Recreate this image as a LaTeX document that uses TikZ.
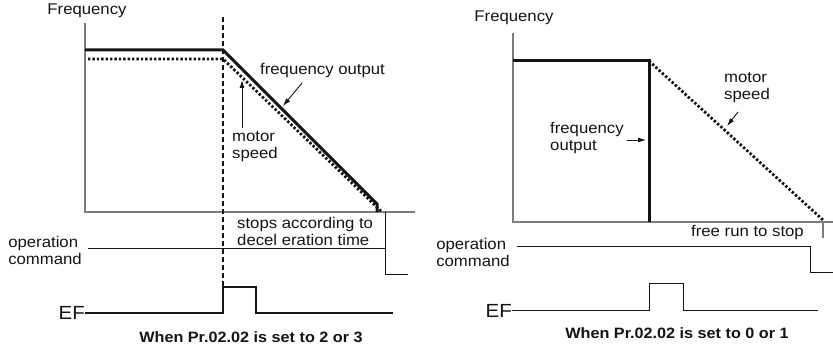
\documentclass[tikz,border=0pt]{standalone}
\usepackage{fontspec}
\setmainfont{Liberation Sans}[FakeStretch=1.08]
\usepackage{tikz}
\usetikzlibrary{arrows.meta,positioning}
\definecolor{axisgray}{RGB}{125,125,125}
\definecolor{inkblack}{RGB}{20,20,20}
\tikzset{
  lbl/.style={font=\fontsize{15.5}{17}\selectfont, inner sep=0pt, align=left, text=inkblack},
  caplbl/.style={font=\fontsize{15}{17}\selectfont\bfseries, inner sep=0pt, text=inkblack},
  eflbl/.style={font=\fontsize{19}{21}\selectfont, inner sep=0pt, text=inkblack},
  axis/.style={draw=axisgray, line width=1.1pt},
  freqout/.style={draw=inkblack, line width=3pt, line join=miter},
  motorspd/.style={draw=inkblack, line width=2.8pt, dash pattern=on 2.4pt off 2pt},
  cmdline/.style={draw=inkblack, line width=1pt},
  efline/.style={draw=inkblack, line width=1.4pt},
  trigger/.style={draw=inkblack, line width=1.5pt, dash pattern=on 5pt off 3pt},
  pointer/.style={-{Latex[length=8pt,width=5pt]}, draw=inkblack, line width=0.9pt}
}

\begin{document}
\begin{tikzpicture}[x=1pt,y=-1pt]
  \useasboundingbox (0,0) rectangle (833,352);

  % left: Pr.02.02 = 2 or 3
  \coordinate (lo) at (85,212);
  \coordinate (ltop) at (85,23);
  \coordinate (lend) at (415,212);
  \draw[axis] (ltop) -- (lo) -- (lend);
  \node[lbl] (lfreq) at (87,11) {Frequency};

  \coordinate (lf0) at (85,50);
  \coordinate (lf1) at (223,50);
  \coordinate (lf2) at (377,204);
  \coordinate (lf3) at (377,212);
  \draw[freqout] (lf0) -- (lf1) -- (lf2) -- (lf3);
  \coordinate (lm0) at (88,59);
  \coordinate (lm1) at (223,59);
  \coordinate (lm2) at (381,211);
  \draw[motorspd] (lm0) -- (lm1) -- (lm2);

  \coordinate (ltrig0) at (223,17);
  \coordinate (ltrig1) at (223,287);
  \draw[trigger] (ltrig0) -- (ltrig1);

  \node[lbl, anchor=west] (lfoutl) at (260,71) {frequency output};
  \coordinate (lfoutp) at (283,106);
  \draw[pointer] (302,83) -- (lfoutp);
  \node[lbl, anchor=west] (lmotl) at (232,147) {motor\\speed};
  \coordinate (lmotp) at (242,80);
  \draw[pointer] (242,128) -- (lmotp);

  \node[lbl, anchor=west] (lstop) at (237,231.5) {stops according to\\decel eration time};

  \node[lbl, anchor=east, align=left] (lcmd) at (82,250) {operation\\command};
  \coordinate (lc0) at (88,249);
  \coordinate (lc1) at (385,249);
  \coordinate (lc2) at (385,275);
  \coordinate (lc3) at (408,275);
  \coordinate (lcax) at (385,212);
  \draw[cmdline] (lc0) -- (lc1) -- (lc2) -- (lc3);
  \draw[cmdline] (lcax) -- (lc1);

  \node[eflbl, anchor=east] (lef) at (85,313) {EF};
  \draw[efline] (lef.east) -- (223,313) -- (223,287) -- (256,287) -- (256,313) -- (393,313);

  \node[caplbl] (lcap) at (251,337) {When Pr.02.02 is set to 2 or 3};

  % right: Pr.02.02 = 0 or 1
  \coordinate (ro) at (513,222);
  \coordinate (rtop) at (513,33);
  \coordinate (rend) at (833,222);
  \draw[axis] (rtop) -- (ro) -- (rend);
  \node[lbl] (rfreq) at (514,18) {Frequency};

  \coordinate (rf0) at (513,61);
  \coordinate (rf1) at (649,61);
  \coordinate (rf2) at (649,222);
  \draw[freqout] (rf0) -- (rf1) -- (rf2);
  \coordinate (rm1) at (823,220);
  \draw[motorspd] (rf1) -- (rm1);
  \coordinate (rstopt) at (823,222);
  \coordinate (rstopb) at (823,238);
  \draw[axis] (rstopt) -- (rstopb);

  \node[lbl, anchor=west] (rmotl) at (724,88) {motor\\speed};
  \coordinate (rmotp) at (727,126);
  \draw[pointer] (738,112) -- (rmotp);
  \node[lbl, anchor=west] (rfoutl) at (550,138) {frequency\\output};
  \coordinate (rfoutp) at (646,140);
  \draw[pointer] (627,140) -- (rfoutp);

  \node[lbl, anchor=west] (rstop) at (691,233) {free run to stop};

  \node[lbl, anchor=east, align=left] (rcmd) at (510,252) {operation\\command};
  \coordinate (rc0) at (517,247);
  \coordinate (rc1) at (810,247);
  \coordinate (rc2) at (810,273);
  \coordinate (rc3) at (833,273);
  \draw[cmdline] (rc0) -- (rc1) -- (rc2) -- (rc3);

  \node[eflbl, anchor=east] (ref) at (512,311) {EF};
  \draw[cmdline] (ref.east) -- (649,311) -- (649,284) -- (683,284) -- (683,311) -- (818,311);

  \node[caplbl] (rcap) at (677,333) {When Pr.02.02 is set to 0 or 1};
\end{tikzpicture}
\end{document}
